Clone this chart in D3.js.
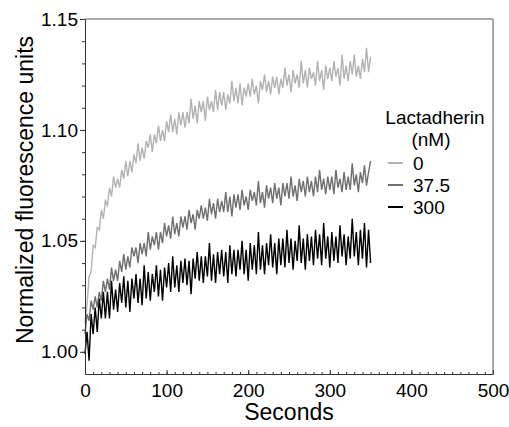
<!DOCTYPE html>
<html>
<head>
<meta charset="utf-8">
<script src="https://cdn.jsdelivr.net/npm/d3@7"></script>
<style>
  body { margin: 0; background: #fff; }
  svg { display: block; font-family: "Liberation Sans", Arial, sans-serif; }
</style>
</head>
<body>
<div id="chart"></div>
<script>
// sampling step of the traces, seconds
var sampleStep = 2.5;

var concentrations = ["0", "37.5", "300"];
var colors = ["#b2b2b2", "#6f6f6f", "#000000"];

// normalized fluorescence, one value per 2.5 s from 0 to 350 s
var lact0 = [
  1.013, 1.021, 1.034, 1.036, 1.048, 1.047, 1.056, 1.055, 1.064, 1.060,
  1.068, 1.066, 1.074, 1.070, 1.079, 1.074, 1.078, 1.074, 1.082, 1.078,
  1.086, 1.079, 1.086, 1.081, 1.089, 1.085, 1.094, 1.086, 1.092, 1.087,
  1.095, 1.092, 1.098, 1.090, 1.098, 1.094, 1.102, 1.095, 1.100, 1.095,
  1.104, 1.099, 1.107, 1.099, 1.105, 1.098, 1.108, 1.102, 1.108, 1.101,
  1.108, 1.103, 1.114, 1.105, 1.111, 1.103, 1.113, 1.108, 1.113, 1.104,
  1.115, 1.109, 1.113, 1.108, 1.118, 1.109, 1.117, 1.111, 1.117, 1.109,
  1.116, 1.112, 1.122, 1.113, 1.119, 1.112, 1.121, 1.111, 1.119, 1.115,
  1.121, 1.115, 1.123, 1.116, 1.120, 1.112, 1.122, 1.118, 1.125, 1.117,
  1.122, 1.116, 1.124, 1.119, 1.124, 1.116, 1.123, 1.119, 1.128, 1.120,
  1.125, 1.117, 1.127, 1.121, 1.125, 1.119, 1.131, 1.121, 1.127, 1.119,
  1.128, 1.123, 1.126, 1.120, 1.131, 1.122, 1.127, 1.118, 1.129, 1.123,
  1.128, 1.122, 1.131, 1.124, 1.128, 1.120, 1.134, 1.123, 1.129, 1.122,
  1.131, 1.125, 1.134, 1.124, 1.129, 1.123, 1.132, 1.126, 1.137, 1.126,
  1.133
];

var lact37 = [
  1.008, 1.017, 1.014, 1.023, 1.019, 1.025, 1.020, 1.027, 1.023, 1.032,
  1.027, 1.033, 1.028, 1.038, 1.032, 1.037, 1.032, 1.041, 1.036, 1.044,
  1.037, 1.043, 1.038, 1.047, 1.043, 1.047, 1.040, 1.049, 1.044, 1.049,
  1.043, 1.054, 1.046, 1.052, 1.048, 1.054, 1.046, 1.054, 1.049, 1.058,
  1.052, 1.057, 1.051, 1.061, 1.053, 1.058, 1.052, 1.061, 1.056, 1.061,
  1.055, 1.064, 1.058, 1.062, 1.055, 1.064, 1.060, 1.066, 1.060, 1.065,
  1.059, 1.069, 1.062, 1.067, 1.060, 1.069, 1.063, 1.068, 1.063, 1.072,
  1.063, 1.070, 1.061, 1.071, 1.065, 1.071, 1.064, 1.073, 1.066, 1.070,
  1.064, 1.073, 1.068, 1.072, 1.066, 1.077, 1.067, 1.072, 1.065, 1.075,
  1.069, 1.074, 1.067, 1.076, 1.069, 1.074, 1.066, 1.076, 1.070, 1.076,
  1.069, 1.079, 1.070, 1.075, 1.068, 1.078, 1.072, 1.077, 1.070, 1.079,
  1.072, 1.077, 1.070, 1.079, 1.072, 1.082, 1.073, 1.078, 1.071, 1.079,
  1.073, 1.079, 1.071, 1.082, 1.074, 1.078, 1.072, 1.081, 1.073, 1.079,
  1.073, 1.085, 1.075, 1.080, 1.072, 1.081, 1.076, 1.084, 1.075, 1.081,
  1.086
];

var lact300 = [
  0.999, 1.009, 0.996, 1.017, 1.008, 1.020, 1.009, 1.024, 1.015, 1.027,
  1.015, 1.027, 1.015, 1.032, 1.019, 1.028, 1.018, 1.031, 1.022, 1.034,
  1.020, 1.032, 1.018, 1.033, 1.024, 1.035, 1.022, 1.033, 1.021, 1.039,
  1.024, 1.036, 1.023, 1.035, 1.027, 1.039, 1.025, 1.037, 1.023, 1.038,
  1.029, 1.040, 1.027, 1.043, 1.029, 1.039, 1.027, 1.041, 1.031, 1.042,
  1.030, 1.041, 1.026, 1.042, 1.033, 1.045, 1.032, 1.043, 1.031, 1.043,
  1.034, 1.049, 1.032, 1.044, 1.031, 1.045, 1.035, 1.046, 1.034, 1.045,
  1.031, 1.048, 1.035, 1.046, 1.034, 1.046, 1.037, 1.050, 1.035, 1.046,
  1.032, 1.049, 1.037, 1.048, 1.035, 1.054, 1.037, 1.048, 1.035, 1.049,
  1.039, 1.053, 1.038, 1.049, 1.035, 1.051, 1.039, 1.051, 1.038, 1.055,
  1.040, 1.051, 1.037, 1.050, 1.041, 1.057, 1.040, 1.051, 1.037, 1.053,
  1.041, 1.052, 1.039, 1.055, 1.042, 1.053, 1.039, 1.058, 1.042, 1.052,
  1.038, 1.054, 1.041, 1.052, 1.040, 1.057, 1.043, 1.053, 1.039, 1.052,
  1.042, 1.060, 1.043, 1.054, 1.039, 1.055, 1.042, 1.058, 1.038, 1.055,
  1.040
];

var xTicks = [0, 100, 200, 300, 400, 500];
var yTicks = [1.00, 1.05, 1.10, 1.15];

var series = [lact0, lact37, lact300];

var width = 509, height = 427;
var margin = { top: 19, right: 16, bottom: 53, left: 85 };

var svg = d3.select("#chart")
            .append("svg")
            .attr("width", width)
            .attr("height", height);

var x = d3.scaleLinear()
          .domain([0, 500])
          .range([margin.left, width - margin.right]);

var y = d3.scaleLinear()
          .domain([0.990, 1.15])
          .range([height - margin.bottom, margin.top]);

// traces
var line = d3.line()
             .x(function (d, i) { return x(i * sampleStep); })
             .y(function (d) { return y(d); });

series.forEach(function (s, k) {
  svg.append("path")
     .datum(s)
     .attr("fill", "none")
     .attr("stroke", colors[k])
     .attr("stroke-width", 1.4)
     .attr("stroke-linejoin", "miter")
     .attr("d", line);
});

// frame (top and right)
svg.append("path")
   .attr("fill", "none")
   .attr("stroke", "#555")
   .attr("stroke-width", 1)
   .attr("d", "M" + x(0) + "," + y(1.15) + "H" + x(500) + "V" + y(0.990));

// x axis, ticks pointing in
svg.append("g")
   .attr("transform", "translate(0," + y(0.990) + ")")
   .call(d3.axisBottom(x).tickValues(d3.range(0, 501, 10)).tickSize(-2).tickFormat(""))
   .call(function (g) { g.select(".domain").remove(); });

var xAxis = svg.append("g")
   .attr("transform", "translate(0," + y(0.990) + ")")
   .call(d3.axisBottom(x).tickValues(xTicks).tickSizeInner(-4).tickSizeOuter(0).tickPadding(10));

xAxis.selectAll("text")
     .style("font-size", "19px")
     .style("font-family", "Liberation Sans, Arial, sans-serif")
     .attr("fill", "#000");

// y axis, ticks pointing out
svg.append("g")
   .attr("transform", "translate(" + x(0) + ",0)")
   .call(d3.axisLeft(y).tickValues(d3.range(100, 116, 1).map(function (v) { return v / 100; })).tickSize(3).tickFormat(""))
   .call(function (g) { g.select(".domain").remove(); });

var yAxis = svg.append("g")
   .attr("transform", "translate(" + x(0) + ",0)")
   .call(d3.axisLeft(y).tickValues(yTicks).tickSizeInner(5).tickSizeOuter(0).tickPadding(2).tickFormat(d3.format(".2f")));

yAxis.selectAll("text")
     .style("font-size", "19px")
     .style("font-family", "Liberation Sans, Arial, sans-serif")
     .attr("fill", "#000");

svg.selectAll(".domain, .tick line").attr("stroke", "#333");

// axis titles
svg.append("text")
   .attr("x", (x(0) + x(500)) / 2)
   .attr("y", 420)
   .attr("text-anchor", "middle")
   .style("font-size", "23px")
   .text("Seconds");

svg.append("text")
   .attr("transform", "translate(33,190) rotate(-90)")
   .attr("text-anchor", "middle")
   .style("font-size", "23px")
   .text("Normalized fluorescence units");

// legend
svg.append("text")
   .attr("x", 435)
   .attr("y", 124)
   .attr("text-anchor", "middle")
   .style("font-size", "19px")
   .text("Lactadherin");

svg.append("text")
   .attr("x", 431)
   .attr("y", 146)
   .attr("text-anchor", "middle")
   .style("font-size", "19px")
   .text("(nM)");

concentrations.forEach(function (c, k) {
  var ly = 163 + k * 22;
  svg.append("line")
     .attr("x1", 388)
     .attr("x2", 403)
     .attr("y1", ly)
     .attr("y2", ly)
     .attr("stroke", colors[k])
     .attr("stroke-width", 2);

  svg.append("text")
     .attr("x", 413)
     .attr("y", ly)
     .attr("dy", "0.36em")
     .style("font-size", "19px")
     .text(c);
});
</script>
</body>
</html>
